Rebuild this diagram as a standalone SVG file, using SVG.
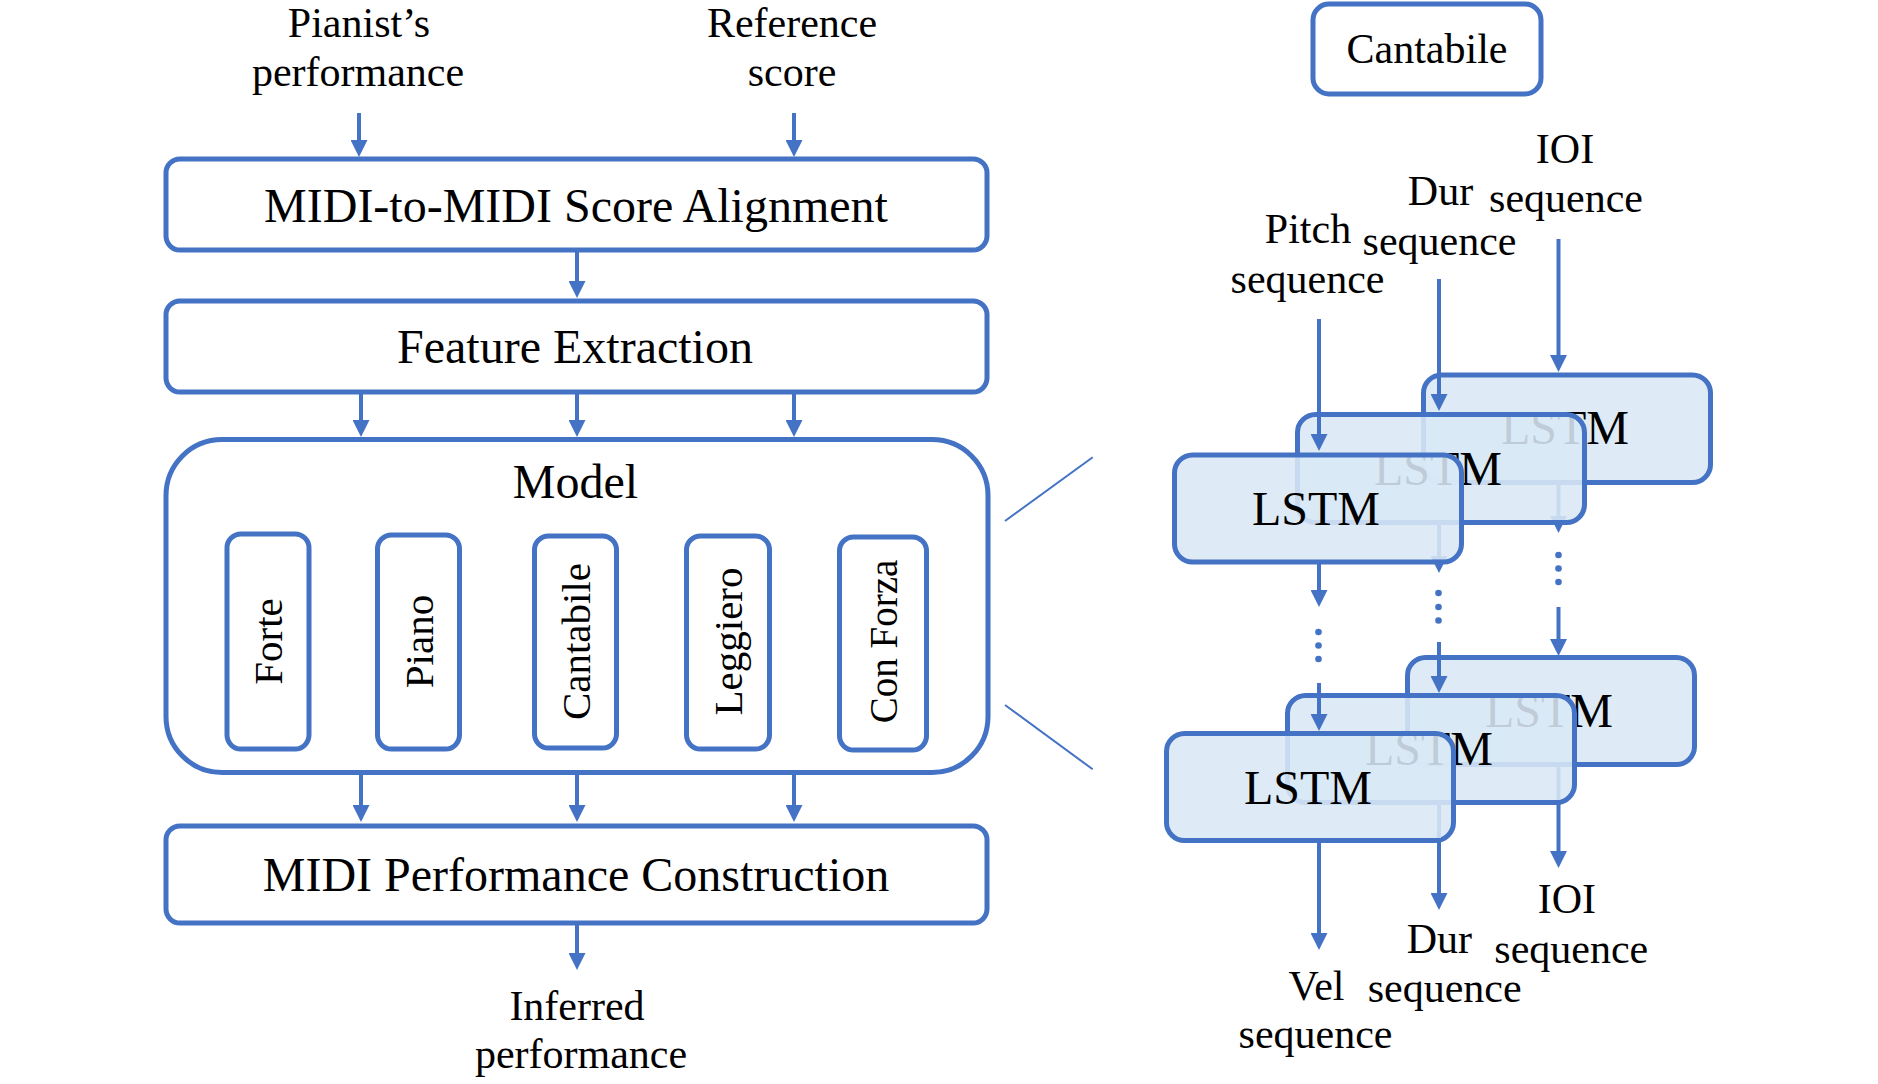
<svg xmlns="http://www.w3.org/2000/svg" width="1878" height="1084" viewBox="0 0 1878 1084">
<style>
text{font-family:"Liberation Serif","Times New Roman",serif;fill:#000;text-anchor:middle}
.lbl{font-size:42px}
.big{font-size:48px}
.rot{font-size:41px}
.box{fill:#fff;stroke:#4472C4;stroke-width:5}
.lstm{fill:#D9E8F6;fill-opacity:0.88;stroke:#4472C4;stroke-width:5}
.arr{stroke:#4472C4;stroke-width:4;fill:none;marker-end:url(#ah)}
.arrf{stroke:#C8DAF0;stroke-width:4;fill:none;marker-end:url(#ahf)}
.thin{stroke:#4472C4;stroke-width:2;fill:none}
.dot{fill:#4472C4}
</style>
<defs>
<marker id="ah" markerUnits="userSpaceOnUse" markerWidth="17" markerHeight="17" viewBox="0 0 17 17" refX="0" refY="8.5" orient="auto"><path d="M0,0L17,8.5L0,17Z" fill="#4472C4"/></marker>
<marker id="ahf" markerUnits="userSpaceOnUse" markerWidth="17" markerHeight="17" viewBox="0 0 17 17" refX="0" refY="8.5" orient="auto"><path d="M0,0L17,8.5L0,17Z" fill="#C8DAF0"/></marker>
<clipPath id="inB"><rect x="1300" y="417" width="282" height="103"/></clipPath>
<clipPath id="outB"><path clip-rule="evenodd" d="M0,0H1878V1084H0Z M1300,417H1582V520H1300Z"/></clipPath>
<clipPath id="inC"><rect x="1177" y="457.5" width="282" height="102"/></clipPath>
<clipPath id="outC"><path clip-rule="evenodd" d="M0,0H1878V1084H0Z M1177,457.5H1459V559.5H1177Z"/></clipPath>
<clipPath id="inE"><rect x="1290" y="698" width="282" height="102"/></clipPath>
<clipPath id="outE"><path clip-rule="evenodd" d="M0,0H1878V1084H0Z M1290,698H1572V800H1290Z"/></clipPath>
<clipPath id="inF"><rect x="1169" y="736" width="282" height="102"/></clipPath>
<clipPath id="outF"><path clip-rule="evenodd" d="M0,0H1878V1084H0Z M1169,736H1451V838H1169Z"/></clipPath>
</defs>
<rect width="1878" height="1084" fill="#fff"/>

<g id="label-pianist"><text class="lbl" x="359" y="37">Pianist’s</text><text class="lbl" x="358" y="86">performance</text></g>
<g id="label-reference"><text class="lbl" x="792" y="37">Reference</text><text class="lbl" x="792" y="86">score</text></g>

<g id="node-alignment"><rect class="box" x="166" y="159" width="821" height="91" rx="14"/><text class="big" x="576" y="222">MIDI-to-MIDI Score Alignment</text></g>
<g id="node-feature"><rect class="box" x="166" y="301" width="821" height="91" rx="14"/><text class="big" x="575" y="363">Feature Extraction</text></g>
<g id="node-model"><rect class="box" x="166" y="439.5" width="822" height="333" rx="56"/><text class="big" x="575.5" y="498">Model</text></g>
<g id="node-forte"><rect class="box" x="227" y="534" width="82" height="215" rx="14"/><text class="rot" transform="translate(268,641.5) rotate(-90)" x="0" y="14">Forte</text></g>
<g id="node-piano"><rect class="box" x="377.5" y="535" width="82" height="214" rx="14"/><text class="rot" transform="translate(418.5,641.5) rotate(-90)" x="0" y="14">Piano</text></g>
<g id="node-cantabile"><rect class="box" x="534.5" y="536" width="82" height="212" rx="14"/><text class="rot" transform="translate(575.5,641.5) rotate(-90)" x="0" y="14">Cantabile</text></g>
<g id="node-leggiero"><rect class="box" x="686.5" y="536" width="83" height="213" rx="14"/><text class="rot" transform="translate(728,641.5) rotate(-90)" x="0" y="14">Leggiero</text></g>
<g id="node-conforza"><rect class="box" x="839.5" y="537" width="87" height="213" rx="14"/><text class="rot" style="font-size:39px" transform="translate(883,641.5) rotate(-90)" x="0" y="14">Con Forza</text></g>
<g id="node-construction"><rect class="box" x="166" y="826" width="821" height="97" rx="14"/><text class="big" x="576" y="891">MIDI Performance Construction</text></g>
<g id="label-inferred"><text class="lbl" x="577" y="1020">Inferred</text><text class="lbl" x="581" y="1068">performance</text></g>

<g id="node-cantabile-title"><rect class="box" x="1313" y="4" width="228" height="90" rx="16"/><text class="lbl" x="1427" y="63">Cantabile</text></g>
<g id="label-ioi-in"><text class="lbl" x="1565" y="163">IOI</text><text class="lbl" x="1566" y="212">sequence</text></g>
<g id="label-dur-in"><text class="lbl" x="1440.5" y="205">Dur</text><text class="lbl" x="1439.5" y="255">sequence</text></g>
<g id="label-pitch-in"><text class="lbl" x="1308" y="243">Pitch</text><text class="lbl" x="1307.5" y="293">sequence</text></g>

<g id="node-lstm-a"><rect class="lstm" x="1423.5" y="375" width="287" height="107.5" rx="18"/><text class="big" x="1565" y="444">LSTM</text></g>
<g id="node-lstm-b"><rect class="lstm" x="1297.5" y="414.5" width="287" height="108" rx="18"/><text class="big" x="1438" y="485">LSTM</text></g>
<g id="node-lstm-c"><rect class="lstm" x="1174.5" y="455" width="287" height="107" rx="18"/><text class="big" x="1316" y="525">LSTM</text></g>
<g id="node-lstm-d"><rect class="lstm" x="1407.5" y="657.5" width="287" height="107" rx="18"/><text class="big" x="1549" y="727">LSTM</text></g>
<g id="node-lstm-e"><rect class="lstm" x="1287.5" y="695.5" width="287" height="107" rx="18"/><text class="big" x="1429" y="765">LSTM</text></g>
<g id="node-lstm-f"><rect class="lstm" x="1166.5" y="733.5" width="287" height="107" rx="18"/><text class="big" x="1308" y="804">LSTM</text></g>

<g id="label-vel-out"><text class="lbl" x="1316.5" y="1000">Vel</text><text class="lbl" x="1315.5" y="1048">sequence</text></g>
<g id="label-dur-out"><text class="lbl" x="1439.3" y="953">Dur</text><text class="lbl" x="1444.7" y="1002">sequence</text></g>
<g id="label-ioi-out"><text class="lbl" x="1566.8" y="913">IOI</text><text class="lbl" x="1571.3" y="963">sequence</text></g>

<g id="connectors">
<line class="arr" x1="359" y1="113" x2="359" y2="140"/>
<line class="arr" x1="794" y1="113" x2="794" y2="140"/>
<line class="arr" x1="577" y1="251" x2="577" y2="281"/>
<line class="arr" x1="361" y1="393" x2="361" y2="420"/>
<line class="arr" x1="577" y1="393" x2="577" y2="420"/>
<line class="arr" x1="794" y1="393" x2="794" y2="420"/>
<line class="arr" x1="361" y1="775" x2="361" y2="805"/>
<line class="arr" x1="577" y1="775" x2="577" y2="805"/>
<line class="arr" x1="794" y1="775" x2="794" y2="805"/>
<line class="arr" x1="577" y1="925" x2="577" y2="953"/>
<line class="thin" x1="1005" y1="521" x2="1092.7" y2="457.3"/>
<line class="thin" x1="1005" y1="705" x2="1092.7" y2="769.3"/>
<line class="arr" x1="1558.5" y1="239" x2="1558.5" y2="355"/>
<line class="arr" x1="1439" y1="279" x2="1439" y2="394"/>
<line class="arr" x1="1319" y1="319" x2="1319" y2="434"/>
<g clip-path="url(#inB)"><line class="arrf" x1="1558.5" y1="482.5" x2="1558.5" y2="516"/></g>
<g clip-path="url(#outB)"><line class="arr" x1="1558.5" y1="482.5" x2="1558.5" y2="516"/></g>
<g clip-path="url(#inC)"><line class="arrf" x1="1439" y1="522.5" x2="1439" y2="556"/></g>
<g clip-path="url(#outC)"><line class="arr" x1="1439" y1="522.5" x2="1439" y2="556"/></g>
<line class="arr" x1="1319" y1="562" x2="1319" y2="590"/>
<circle class="dot" cx="1558.5" cy="555" r="3.3"/><circle class="dot" cx="1558.5" cy="568.5" r="3.3"/><circle class="dot" cx="1558.5" cy="582" r="3.3"/>
<circle class="dot" cx="1438.5" cy="593" r="3.3"/><circle class="dot" cx="1438.5" cy="607" r="3.3"/><circle class="dot" cx="1438.5" cy="620.5" r="3.3"/>
<circle class="dot" cx="1318.5" cy="632" r="3.3"/><circle class="dot" cx="1318.5" cy="645.5" r="3.3"/><circle class="dot" cx="1318.5" cy="659" r="3.3"/>
<line class="arr" x1="1558.5" y1="607" x2="1558.5" y2="639"/>
<line class="arr" x1="1439" y1="642" x2="1439" y2="676"/>
<line class="arr" x1="1319" y1="683" x2="1319" y2="714"/>
<g clip-path="url(#inE)"><line class="arrf" x1="1558.5" y1="764.5" x2="1558.5" y2="851"/></g>
<g clip-path="url(#outE)"><line class="arr" x1="1558.5" y1="764.5" x2="1558.5" y2="851"/></g>
<g clip-path="url(#inF)"><line class="arrf" x1="1439" y1="802.5" x2="1439" y2="893"/></g>
<g clip-path="url(#outF)"><line class="arr" x1="1439" y1="802.5" x2="1439" y2="893"/></g>
<line class="arr" x1="1319" y1="840.5" x2="1319" y2="933"/>
</g>
</svg>
